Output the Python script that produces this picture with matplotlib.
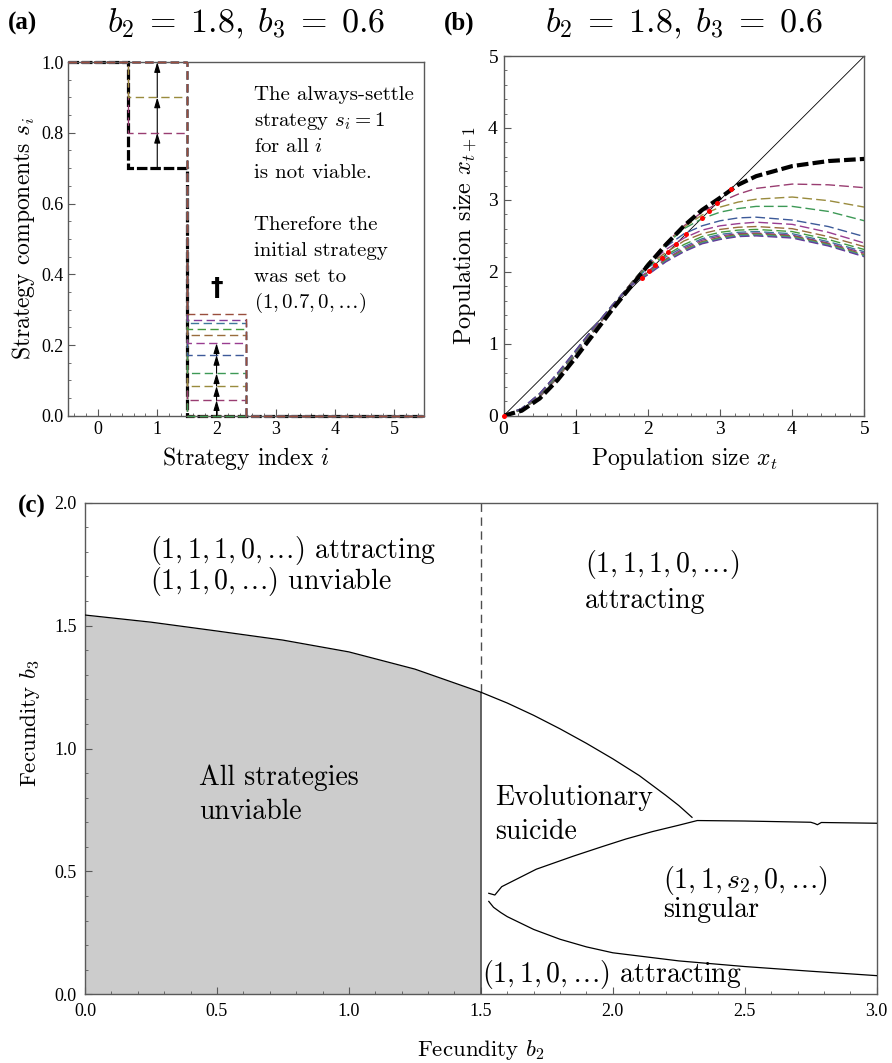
import numpy as np
import matplotlib
matplotlib.use('Agg')
import matplotlib.pyplot as plt
from matplotlib.colors import hsv_to_rgb
from matplotlib.ticker import MultipleLocator, FormatStrFormatter

plt.rcParams['font.family'] = 'Liberation Serif'
plt.rcParams['mathtext.fontset'] = 'cm'
plt.rcParams['axes.formatter.use_mathtext'] = True

CM = 'cmr10'

# ---------------- panel (a): strategy components
strategy_index = [0, 1, 2, 3, 4, 5]
initial_strategy = [1.0, 0.7, 0.0, 0.0, 0.0, 0.0]
s1_steps = [0.8, 0.9, 1.0]
s2_steps = [0.044, 0.084, 0.120, 0.172, 0.205, 0.228, 0.245, 0.261, 0.272, 0.287]
n_s2_arrows = 5

# ---------------- panel (b): population maps
x_pop = [0, 0.25, 0.5, 0.75, 1.0, 1.25, 1.5, 1.75, 2.0, 2.25, 2.5, 2.75,
         3.0, 3.25, 3.5, 4.0, 4.5, 5.0]
next_pop_initial = [0, 0.07, 0.24, 0.50, 0.81, 1.14, 1.47, 1.78, 2.09, 2.38, 2.64,
                    2.86, 3.03, 3.21, 3.33, 3.47, 3.54, 3.57]
next_pop_steps = [
    [0, 0.08, 0.26, 0.53, 0.84, 1.17, 1.50, 1.82, 2.12, 2.40, 2.64, 2.83, 2.97, 3.08, 3.16, 3.22, 3.21, 3.17],
    [0, 0.08, 0.27, 0.54, 0.85, 1.18, 1.51, 1.82, 2.12, 2.39, 2.62, 2.79, 2.90, 2.97, 3.01, 3.04, 2.99, 2.90],
    [0, 0.08, 0.27, 0.55, 0.86, 1.19, 1.51, 1.82, 2.12, 2.38, 2.60, 2.74, 2.83, 2.88, 2.91, 2.91, 2.84, 2.71],
    [0, 0.09, 0.28, 0.56, 0.87, 1.20, 1.52, 1.82, 2.11, 2.35, 2.53, 2.64, 2.71, 2.75, 2.76, 2.72, 2.63, 2.49],
    [0, 0.09, 0.28, 0.56, 0.88, 1.20, 1.52, 1.82, 2.10, 2.31, 2.47, 2.58, 2.64, 2.67, 2.69, 2.66, 2.55, 2.40],
    [0, 0.09, 0.29, 0.57, 0.88, 1.21, 1.52, 1.82, 2.09, 2.27, 2.43, 2.53, 2.59, 2.62, 2.63, 2.60, 2.49, 2.35],
    [0, 0.09, 0.29, 0.57, 0.89, 1.21, 1.53, 1.81, 2.08, 2.23, 2.38, 2.49, 2.55, 2.58, 2.59, 2.56, 2.45, 2.31],
    [0, 0.10, 0.30, 0.58, 0.89, 1.22, 1.53, 1.81, 2.06, 2.21, 2.35, 2.46, 2.52, 2.55, 2.56, 2.53, 2.42, 2.28],
    [0, 0.10, 0.30, 0.58, 0.90, 1.22, 1.53, 1.81, 2.01, 2.18, 2.33, 2.44, 2.50, 2.53, 2.54, 2.51, 2.40, 2.26],
    [0, 0.10, 0.30, 0.59, 0.90, 1.22, 1.53, 1.80, 1.99, 2.17, 2.31, 2.42, 2.48, 2.52, 2.53, 2.50, 2.39, 2.24],
    [0, 0.10, 0.31, 0.59, 0.90, 1.23, 1.53, 1.80, 1.98, 2.16, 2.30, 2.41, 2.47, 2.51, 2.52, 2.49, 2.38, 2.23],
    [0, 0.10, 0.31, 0.59, 0.91, 1.23, 1.53, 1.80, 1.97, 2.15, 2.29, 2.40, 2.46, 2.50, 2.51, 2.48, 2.37, 2.22],
    [0, 0.10, 0.31, 0.60, 0.91, 1.23, 1.53, 1.80, 1.96, 2.14, 2.28, 2.39, 2.45, 2.49, 2.50, 2.47, 2.36, 2.21],
]
equilibria = [0.0, 1.92, 2.01, 2.10, 2.19, 2.28, 2.39, 2.53, 2.75, 2.85, 2.96, 3.15]

# ---------------- panel (c): regions in (b2, b3)
b2_viable = [0, 0.25, 0.5, 0.75, 1.0, 1.25, 1.5, 1.6, 1.7, 1.8, 1.9, 2.0,
             2.1, 2.2, 2.25, 2.3]
b3_viable = [1.543, 1.514, 1.478, 1.441, 1.393, 1.323, 1.229, 1.185, 1.135, 1.080,
             1.021, 0.958, 0.890, 0.810, 0.768, 0.720]
b2_suicide = [1.53, 1.553, 1.579, 1.71, 1.85, 1.96, 2.05, 2.15, 2.25, 2.32,
              2.5, 2.75, 2.765, 2.775, 2.79, 3.0]
b3_suicide = [0.411, 0.404, 0.438, 0.509, 0.562, 0.601, 0.632, 0.662, 0.688, 0.707,
              0.705, 0.700, 0.695, 0.690, 0.699, 0.696]
b2_singular = [1.53, 1.548, 1.575, 1.6, 1.7, 1.8, 1.9, 2.0, 2.25, 2.5, 2.75, 3.0]
b3_singular = [0.378, 0.354, 0.333, 0.316, 0.264, 0.224, 0.193, 0.169, 0.136, 0.113,
               0.094, 0.076]
b2_threshold = 1.5

# Mathematica-like colour sequence
colors = [hsv_to_rgb(((0.906068 + 0.236068 * k) % 1.0, 0.6, 0.6)) for k in range(13)]
frame_col = '0.35'


def style_axes(ax, labelsize, pad=3.5):
    for sp in ax.spines.values():
        sp.set_color(frame_col)
        sp.set_linewidth(1.0)
    ax.tick_params(which='both', direction='in', top=False, right=False,
                   labelsize=labelsize, color=frame_col, pad=pad)
    ax.tick_params(which='major', length=5, width=0.8)
    ax.tick_params(which='minor', length=2.5, width=0.6)


fig = plt.figure(figsize=(8.92, 10.63), dpi=100)

# ======================= (a)
ax_a = fig.add_axes([0.0766, 0.6089, 0.3988, 0.3327])
edges = np.arange(len(strategy_index) + 1) - 0.5

ax_a.stairs(initial_strategy, edges, baseline=None, color='k', lw=2.3,
            linestyle=(0, (3.3, 0.9)), clip_on=False, zorder=2)

steps = []
for s1 in s1_steps:
    steps.append([1.0, s1, 0, 0, 0, 0])
for s2 in s2_steps:
    steps.append([1.0, 1.0, s2, 0, 0, 0])
cols_a = colors[:3] + colors[:10]
for strat, c in zip(steps, cols_a):
    ax_a.stairs(strat, edges, baseline=None, color=c, lw=1.0,
                linestyle=(0, (6.0, 3.2)), clip_on=False, zorder=3)

arrow_kw = dict(arrowstyle='-|>,head_length=0.6,head_width=0.18', color='k',
                lw=0.8, shrinkA=0, shrinkB=0, mutation_scale=10)
s1_path = [initial_strategy[1]] + s1_steps
for lo, hi in zip(s1_path[:-1], s1_path[1:]):
    ax_a.annotate('', xy=(strategy_index[1], hi), xytext=(strategy_index[1], lo),
                  arrowprops=arrow_kw, zorder=4)
s2_path = [initial_strategy[2]] + s2_steps[:n_s2_arrows]
for lo, hi in zip(s2_path[:-1], s2_path[1:]):
    ax_a.annotate('', xy=(strategy_index[2], hi), xytext=(strategy_index[2], lo),
                  arrowprops=arrow_kw, zorder=4)

ax_a.text(2, 0.36, '\u2020', ha='center', va='center', fontsize=18,
          fontweight='bold', family='DejaVu Sans')

note_lines = ['The always-settle', 'strategy $s_i = 1$', 'for all $i$',
              'is not viable.', '', 'Therefore the', 'initial strategy',
              'was set to', r'$(1, 0.7, 0, \ldots)$']
for k, line in enumerate(note_lines):
    if line:
        ax_a.text(2.63, 0.907 - k * 0.0735, line, ha='left', va='center',
                  fontsize=15, family=CM)

ax_a.set_xlim(-0.5, 5.5)
ax_a.set_ylim(0, 1)
ax_a.xaxis.set_major_locator(MultipleLocator(1))
ax_a.xaxis.set_minor_locator(MultipleLocator(0.2))
ax_a.yaxis.set_major_locator(MultipleLocator(0.2))
ax_a.yaxis.set_minor_locator(MultipleLocator(0.05))
ax_a.yaxis.set_major_formatter(FormatStrFormatter('%.1f'))
style_axes(ax_a, 13)
ax_a.set_xlabel('Strategy index $i$', fontsize=17, family=CM, labelpad=5)
ax_a.set_ylabel('Strategy components $s_i$', fontsize=17, family=CM, labelpad=3)

# ======================= (b)
ax_b = fig.add_axes([0.5647, 0.6089, 0.4043, 0.3384])
ax_b.axline((0, 0), slope=1, color='k', lw=0.6, zorder=1)
for ys, c in zip(next_pop_steps, colors):
    ax_b.plot(x_pop, ys, color=c, lw=1.0, linestyle=(0, (7, 3)), zorder=3)
ax_b.plot(x_pop, next_pop_initial, color='k', lw=3.0,
          linestyle=(0, (2.8, 1.0)), zorder=4)
ax_b.plot(equilibria, equilibria, 'o', color='red', ms=3.6, mec='none',
          clip_on=False, zorder=5)
ax_b.set_xlim(0, 5)
ax_b.set_ylim(0, 5)
ax_b.xaxis.set_major_locator(MultipleLocator(1))
ax_b.xaxis.set_minor_locator(MultipleLocator(0.2))
ax_b.yaxis.set_major_locator(MultipleLocator(1))
ax_b.yaxis.set_minor_locator(MultipleLocator(0.2))
style_axes(ax_b, 14)
ax_b.set_xlabel('Population size $x_t$', fontsize=17, family=CM, labelpad=5)
ax_b.set_ylabel('Population size $x_{t+1}$', fontsize=17.5, family=CM, labelpad=6)

# ======================= (c)
ax_c = fig.add_axes([0.0953, 0.0646, 0.8876, 0.4625])
b2v = np.array(b2_viable)
b3v = np.array(b3_viable)
left = b2v <= b2_threshold
ax_c.fill_between(b2v[left], 0, b3v[left], color='#cccccc', lw=0, zorder=1)
ax_c.plot(b2_viable, b3_viable, color='k', lw=0.9, zorder=3)
cut_top = b3v[b2v == b2_threshold][0]
ax_c.vlines(b2_threshold, 0, cut_top, color='0.3', lw=1.2, zorder=2)
ax_c.vlines(b2_threshold, cut_top, 2.0, color='0.3', lw=1.0,
            linestyles=(0, (6, 4)), zorder=2)
ax_c.plot(b2_suicide, b3_suicide, color='k', lw=0.9, zorder=3)
ax_c.plot(b2_singular, b3_singular, color='k', lw=0.9, zorder=3)

fs_c = 20
ax_c.text(0.247, 1.807, r'$(1, 1, 1, 0, \ldots)$ attracting', fontsize=fs_c,
          family=CM, va='center')
ax_c.text(0.247, 1.678, r'$(1, 1, 0, \ldots)$ unviable', fontsize=fs_c,
          family=CM, va='center')
ax_c.text(0.432, 0.881, 'All strategies', fontsize=fs_c, family=CM, va='center')
ax_c.text(0.432, 0.744, 'unviable', fontsize=fs_c, family=CM, va='center')
ax_c.text(1.895, 1.747, r'$(1, 1, 1, 0, \ldots)$', fontsize=fs_c, family=CM,
          va='center')
ax_c.text(1.895, 1.600, 'attracting', fontsize=fs_c, family=CM, va='center')
ax_c.text(1.555, 0.798, 'Evolutionary', fontsize=fs_c, family=CM, va='center')
ax_c.text(1.555, 0.662, 'suicide', fontsize=fs_c, family=CM, va='center')
ax_c.text(2.19, 0.465, r'$(1, 1, s_2, 0, \ldots)$', fontsize=fs_c, family=CM,
          va='center')
ax_c.text(2.19, 0.343, 'singular', fontsize=fs_c, family=CM, va='center')
ax_c.text(1.505, 0.079, r'$(1, 1, 0, \ldots)$ attracting', fontsize=fs_c,
          family=CM, va='center')

ax_c.set_xlim(0, 3)
ax_c.set_ylim(0, 2)
ax_c.xaxis.set_major_locator(MultipleLocator(0.5))
ax_c.xaxis.set_minor_locator(MultipleLocator(0.1))
ax_c.yaxis.set_major_locator(MultipleLocator(0.5))
ax_c.yaxis.set_minor_locator(MultipleLocator(0.1))
ax_c.xaxis.set_major_formatter(FormatStrFormatter('%.1f'))
ax_c.yaxis.set_major_formatter(FormatStrFormatter('%.1f'))
style_axes(ax_c, 13, pad=6)
ax_c.set_xlabel('Fecundity $b_2$', fontsize=16.5, family=CM)
ax_c.xaxis.set_label_coords(0.5, -0.088)
ax_c.set_ylabel('Fecundity $b_3$', fontsize=16.5, family=CM)
ax_c.yaxis.set_label_coords(-0.054, 0.552)

# ======================= titles and panel letters
title = r'$b_2\;=\;1.8,\;b_3\;=\;0.6$'
fig.text(246 / 892, 1 - 24 / 1063, title, ha='center', va='center', fontsize=24.5)
fig.text(684 / 892, 1 - 24 / 1063, title, ha='center', va='center', fontsize=24.5)
fig.text(8 / 892, 1 - 23 / 1063, '(a)', fontsize=18, fontweight='bold', va='center')
fig.text(444 / 892, 1 - 23 / 1063, '(b)', fontsize=18, fontweight='bold', va='center')
fig.text(18 / 892, 1 - 506 / 1063, '(c)', fontsize=18, fontweight='bold', va='center')

fig.savefig('out.png', dpi=100)
